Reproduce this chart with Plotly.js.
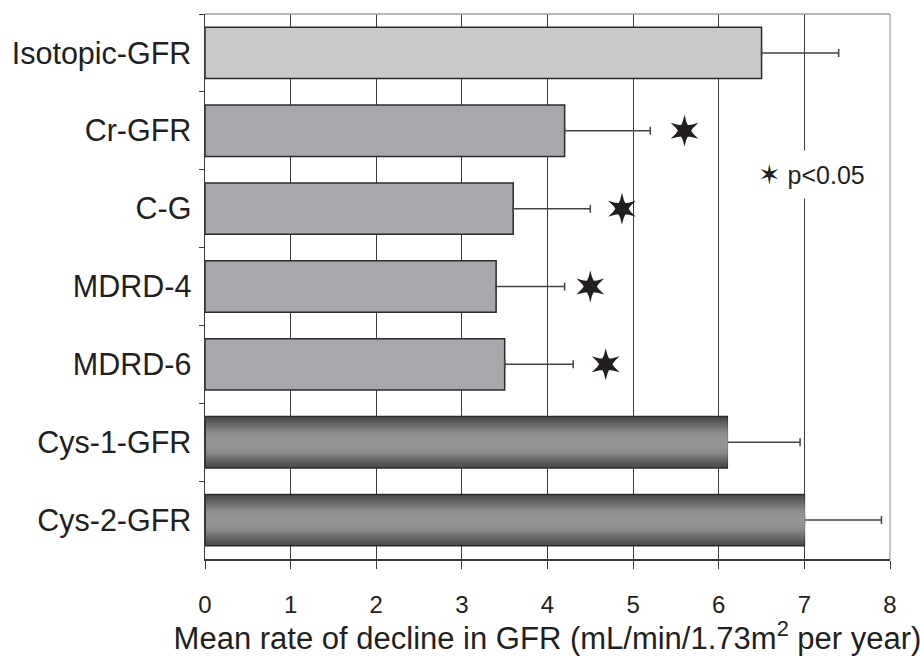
<!DOCTYPE html>
<html>
<head>
<meta charset="utf-8">
<script src="https://cdn.plot.ly/plotly-3.0.1.min.js"></script>
<style>html,body{margin:0;padding:0;background:#fff;}#chart{width:920px;height:656px;}</style>
</head>
<body>
<div id="chart"></div>
<script>
// ---- data ----
var categories = ["Isotopic-GFR", "Cr-GFR", "C-G", "MDRD-4", "MDRD-6", "Cys-1-GFR", "Cys-2-GFR"];
var meanDecline = [6.5, 4.2, 3.6, 3.4, 3.5, 6.1, 7.0];
var errorPlus = [0.9, 1.0, 0.9, 0.8, 0.8, 0.85, 0.9];
var starCategories = ["Cr-GFR", "C-G", "MDRD-4", "MDRD-6"];
var starX = [5.6, 4.87, 4.5, 4.68];
var starSymbol = "\u2736";
var xTickValues = [0, 1, 2, 3, 4, 5, 6, 7, 8];
var xTickLabels = ["0", "1", "2", "3", "4", "5", "6", "7", "8"];
var legendLabel = "p<0.05";
var xAxisTitle = "Mean rate of decline in GFR (mL/min/1.73m<sup>2</sup> per year)";

// ---- styles ----
var barColors = ["#c8c9cb", "#a7a8ab", "#a7a8ab", "#a7a8ab", "#a7a8ab", "#4c4c4e", "#4c4c4e"];
var cysCats = categories.slice(5);
var cysVals = meanDecline.slice(5);
var gradientLayers = [
  {w: 0.62, c: "#505052"},
  {w: 0.58, c: "#565658"},
  {w: 0.54, c: "#5d5d5f"},
  {w: 0.50, c: "#646466"},
  {w: 0.46, c: "#6b6b6d"},
  {w: 0.42, c: "#727274"},
  {w: 0.38, c: "#79797b"},
  {w: 0.34, c: "#808082"},
  {w: 0.30, c: "#868789"},
  {w: 0.25, c: "#8b8c8e"},
  {w: 0.19, c: "#909193"},
  {w: 0.12, c: "#939496"}
];

var traces = [{
  type: "bar",
  orientation: "h",
  y: categories,
  x: meanDecline,
  width: 0.66,
  marker: {color: barColors, line: {color: "#2b2b2b", width: 1.5}},
  error_x: {type: "data", symmetric: false, array: errorPlus, arrayminus: errorPlus.map(function(){return 0;}),
            color: "#444", thickness: 1.5, width: 4},
  showlegend: false,
  hoverinfo: "skip"
}];

gradientLayers.forEach(function(g) {
  traces.push({
    type: "bar",
    orientation: "h",
    y: cysCats,
    x: cysVals.map(function(v){ return v - 0.012; }),
    base: 0.012,
    width: g.w,
    marker: {color: g.c, line: {width: 0}},
    showlegend: false,
    hoverinfo: "skip"
  });
});

["star-triangle-up", "star-triangle-down"].forEach(function(sym) {
  traces.push({
    type: "scatter",
    mode: "markers",
    y: starCategories,
    x: starX,
    marker: {symbol: sym, size: 20, color: "#231f20", line: {width: 0}},
    showlegend: false,
    hoverinfo: "skip"
  });
});

var layout = {
  width: 920,
  height: 656,
  margin: {l: 205, r: 30, t: 14, b: 97},
  paper_bgcolor: "#fff",
  plot_bgcolor: "#fff",
  barmode: "overlay",
  font: {family: "'Liberation Sans', Arial, sans-serif", color: "#231f20"},
  xaxis: {
    range: [0, 8],
    tickvals: xTickValues,
    ticktext: xTickLabels,
    showgrid: true,
    gridcolor: "#3a3a3a",
    gridwidth: 1,
    zeroline: false,
    showline: true,
    linecolor: "#3a3a3a",
    linewidth: 1.5,
    ticks: "outside",
    ticklen: 8,
    tickcolor: "#3a3a3a",
    tickfont: {family: "'Liberation Sans Narrow', 'Liberation Sans', sans-serif", size: 24, color: "#231f20"},
    ticklabelstandoff: 16,
    title: {text: xAxisTitle, font: {size: 31, color: "#231f20"}, standoff: 5},
    fixedrange: true
  },
  yaxis: {
    type: "category",
    categoryorder: "array",
    categoryarray: categories,
    autorange: "reversed",
    showgrid: false,
    zeroline: false,
    showline: true,
    linecolor: "#3a3a3a",
    linewidth: 1.5,
    ticks: "outside",
    tickson: "boundaries",
    ticklen: 5,
    tickcolor: "#3a3a3a",
    tickfont: {size: 30.5, color: "#231f20"},
    ticklabelstandoff: 6,
    fixedrange: true
  },
  showlegend: false,
  annotations: [{
    xref: "x", yref: "paper",
    x: 6.35, y: 0.706,
    xanchor: "left", yanchor: "middle",
    text: "<span style='font-family:DejaVu Sans;font-size:27px'><b>" + starSymbol + "</b></span> " + legendLabel,
    showarrow: false,
    bgcolor: "#ffffff",
    borderpad: 8,
    font: {size: 25, color: "#231f20"}
  }],
  shapes: [
    {type: "line", xref: "paper", yref: "paper", x0: 0, x1: 1, y0: 1, y1: 1, line: {color: "#a0a0a0", width: 1.5}},
    {type: "line", xref: "paper", yref: "paper", x0: 1, x1: 1, y0: 0, y1: 1, line: {color: "#b0b0b0", width: 1.5}}
  ]
};

Plotly.newPlot("chart", traces, layout, {displayModeBar: false, staticPlot: true});
</script>
</body>
</html>
